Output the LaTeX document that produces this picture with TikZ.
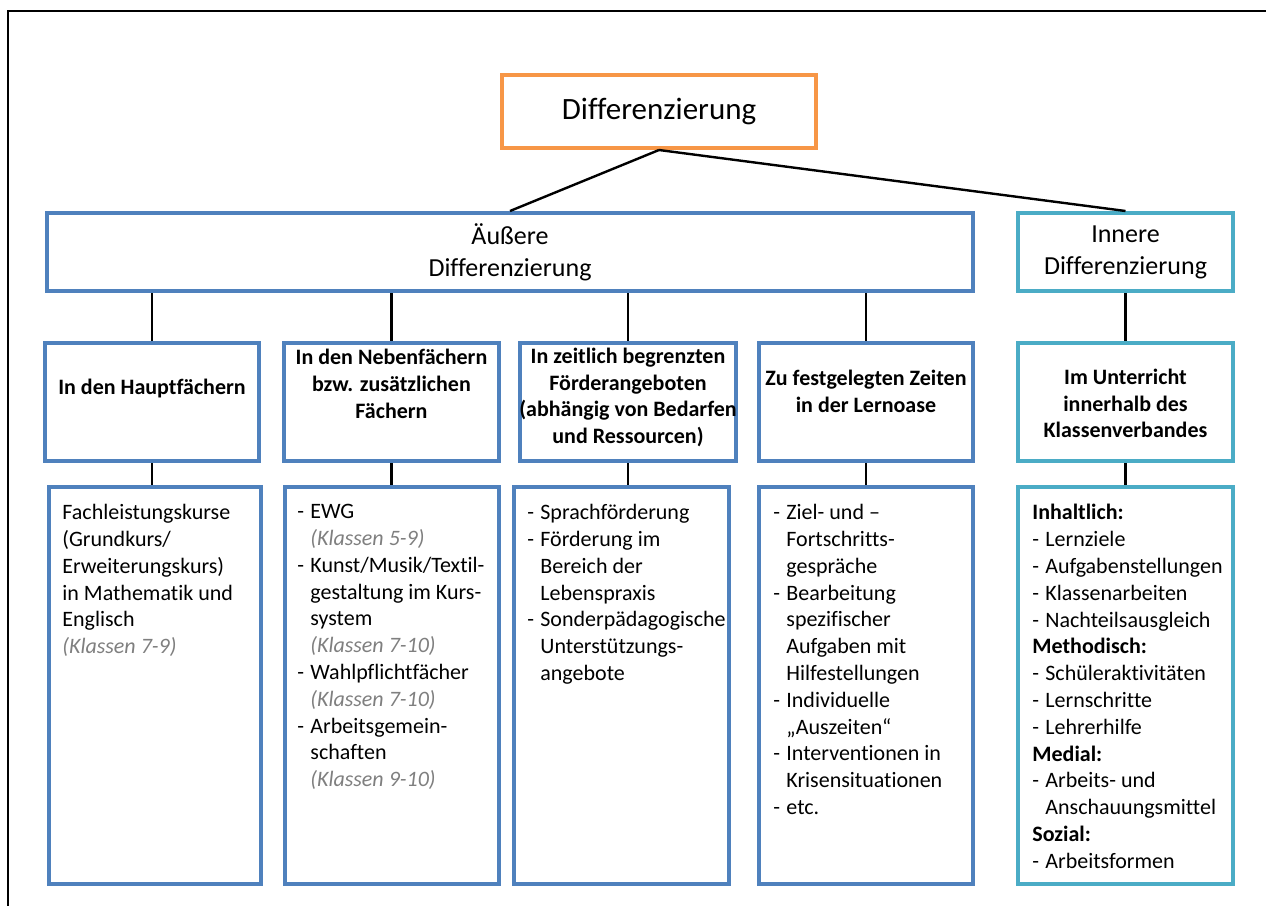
\documentclass[tikz,border=0pt]{standalone}
\usepackage{fontspec}
\setmainfont{Carlito}[Ligatures={TeX,NoCommon}]
\usepackage{xcolor}
\usepackage{tikz}

\definecolor{orangeframe}{HTML}{F79646}
\definecolor{blueframe}{HTML}{4F81BD}
\definecolor{tealframe}{HTML}{4BACC6}
\definecolor{grau}{HTML}{7F7F7F}

\newcommand{\strich}{\makebox[6.5pt][l]{-}}
\newcommand{\weiter}{\hspace*{6.5pt}}
\newcommand{\klasse}[1]{{\color{grau}\itshape (Klassen #1)}}

\begin{document}
\begin{tikzpicture}[x=0.5pt,y=-0.5pt,
  box/.style={draw, line width=2pt, fill=white, inner sep=0pt},
  bluebox/.style={box, draw=blueframe},
  tealbox/.style={box, draw=tealframe},
  head/.style={align=center, inner sep=0pt, font=\fontsize{11}{13.4}\selectfont\bfseries},
  list/.style={align=left, anchor=north west, inner sep=0pt, font=\fontsize{11}{13.4}\selectfont},
  link/.style={line width=1.2pt}]

\useasboundingbox (0,0) rectangle (1266,906);
\draw [line width=1pt] (1266,11) -- (8,11) -- (8,906);

% oberste Ebene
\node[box, draw=orangeframe, minimum width=157pt, minimum height=36.5pt,
  font=\fontsize{15.5}{18}\selectfont] (diff) at (659,111.5) {Differenzierung};

\node[bluebox, minimum width=463pt, minimum height=39pt, align=center,
  font=\fontsize{13}{15.9}\selectfont] (aussen) at (510,252) {Äußere\\Differenzierung};
\node[tealbox, minimum width=107.5pt, minimum height=39pt, align=center,
  font=\fontsize{13}{15.9}\selectfont] (innen) at (1125.5,252) {Innere\\Differenzierung};

\draw [link] (diff.south) -- (aussen.north);
\draw [link] (diff.south) -- (innen.north);

% zweite Ebene
\node[bluebox, minimum width=107pt, minimum height=59pt] (haupt) at (152,402) {};
\node[bluebox, minimum width=107.5pt, minimum height=59pt] (neben) at (391.5,402) {};
\node[bluebox, minimum width=108pt, minimum height=59pt] (zeit) at (628,402) {};
\node[bluebox, minimum width=107pt, minimum height=59pt] (oase) at (866,402) {};
\node[tealbox, minimum width=107.5pt, minimum height=59pt] (unter) at (1125.5,402) {};

\node[head] (haupt-t) at (152,389) {In den Hauptfächern};
\node[head] (neben-t) at (391.5,384) {In den Nebenfächern\\bzw. zusätzlichen\\Fächern};
\node[head] (zeit-t) at (628,397.5) {In zeitlich begrenzten\\Förderangeboten\\(abhängig von Bedarfen\\und Ressourcen)};
\node[head] (oase-t) at (866,391) {Zu festgelegten Zeiten\\in der Lernoase};
\node[head] (unter-t) at (1125.5,403.5) {Im Unterricht\\innerhalb des\\Klassenverbandes};

\draw [link] (aussen.south -| haupt.north) -- (haupt.north);
\draw [link] (aussen.south -| neben.north) -- (neben.north);
\draw [link] (aussen.south -| zeit.north) -- (zeit.north);
\draw [link] (aussen.south -| oase.north) -- (oase.north);
\draw [link] (innen.south) -- (unter.north);

% dritte Ebene
\node[bluebox, minimum width=106pt, minimum height=198.5pt] (haupt-l) at (155,685.5) {};
\node[bluebox, minimum width=107pt, minimum height=198.5pt] (neben-l) at (392,685.5) {};
\node[bluebox, minimum width=107.5pt, minimum height=198.5pt] (zeit-l) at (621.5,685.5) {};
\node[bluebox, minimum width=107pt, minimum height=198.5pt] (oase-l) at (866,685.5) {};
\node[tealbox, minimum width=107.5pt, minimum height=198.5pt] (unter-l) at (1125.5,685.5) {};

\draw [link] (haupt.south) -- (haupt.south |- haupt-l.north);
\draw [link] (neben.south) -- (neben.south |- neben-l.north);
\draw [link] (zeit.south) -- (zeit.south |- zeit-l.north);
\draw [link] (oase.south) -- (oase.south |- oase-l.north);
\draw [link] (unter.south) -- (unter.south |- unter-l.north);

\node[list] (haupt-x) at (62,504) {Fachleistungskurse\\(Grundkurs/\\Erweiterungskurs)\\in Mathematik und\\Englisch\\\klasse{7-9}};

\node[list] (neben-x) at (297,504) {\strich EWG\\
  \weiter\klasse{5-9}\\
  \strich Kunst/Musik/Textil-\\
  \weiter gestaltung im Kurs-\\
  \weiter system\\
  \weiter\klasse{7-10}\\
  \strich Wahlpflichtfächer\\
  \weiter\klasse{7-10}\\
  \strich Arbeitsgemein-\\
  \weiter schaften\\
  \weiter\klasse{9-10}};

\node[list] (zeit-x) at (527,504) {\strich Sprachförderung\\
  \strich Förderung im\\
  \weiter Bereich der\\
  \weiter Lebenspraxis\\
  \strich Sonderpädagogische\\
  \weiter Unterstützungs-\\
  \weiter angebote};

\node[list] (oase-x) at (773,504) {\strich Ziel- und –\\
  \weiter Fortschritts-\\
  \weiter gespräche\\
  \strich Bearbeitung\\
  \weiter spezifischer\\
  \weiter Aufgaben mit\\
  \weiter Hilfestellungen\\
  \strich Individuelle\\
  \weiter „Auszeiten“\\
  \strich Interventionen in\\
  \weiter Krisensituationen\\
  \strich etc.};

\node[list] (unter-x) at (1032,504) {\textbf{Inhaltlich:}\\
  \strich Lernziele\\
  \strich Aufgabenstellungen\\
  \strich Klassenarbeiten\\
  \strich Nachteilsausgleich\\
  \textbf{Methodisch:}\\
  \strich Schüleraktivitäten\\
  \strich Lernschritte\\
  \strich Lehrerhilfe\\
  \textbf{Medial:}\\
  \strich Arbeits- und\\
  \weiter Anschauungsmittel\\
  \textbf{Sozial:}\\
  \strich Arbeitsformen};

\end{tikzpicture}
\end{document}
